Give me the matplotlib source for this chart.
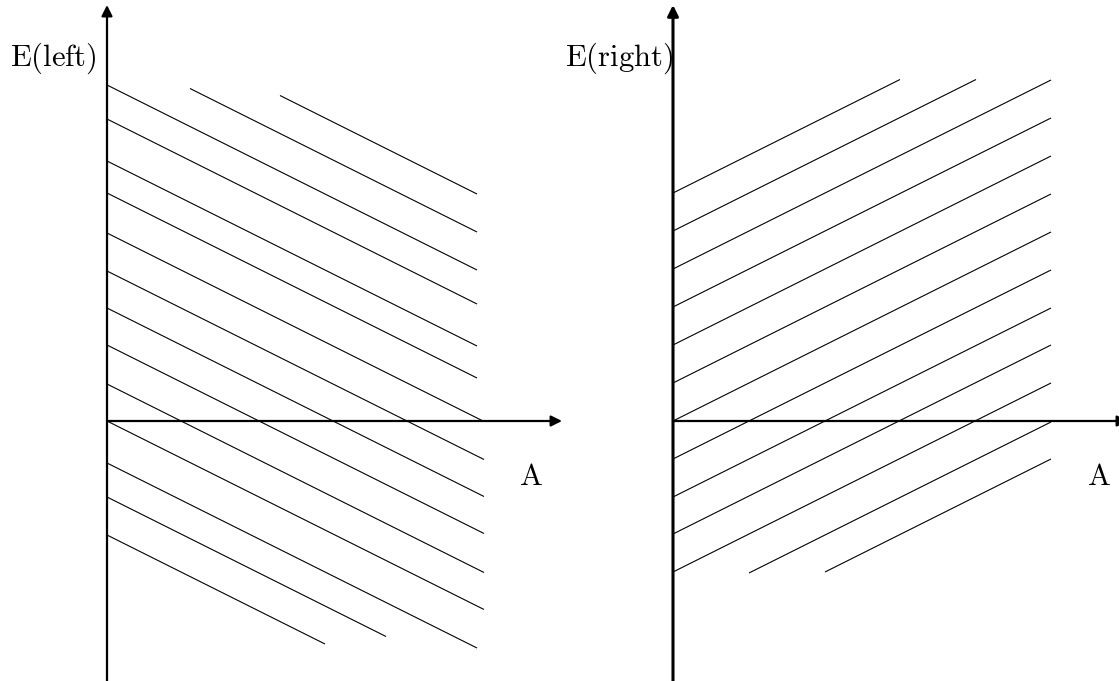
import numpy as np
import matplotlib
matplotlib.use("Agg")
import matplotlib.pyplot as plt

plt.rcParams['mathtext.fontset'] = 'cm'

# left diagram: E = c - 0.5*A, each line drawn from a_start to a_end
left_slope = -0.5
left_intercepts = [412, 374, 336, 302, 260, 228, 188, 150, 113, 76, 37, 0, -42, -76, -114]
left_a_start = [173, 83, 0, 0, 0, 0, 0, 0, 0, 0, 0, 0, 0, 0, 0]
left_a_end = [370, 370, 370, 370, 370, 370, 377, 377, 377, 377, 377, 377, 370, 279, 218]

# right diagram: E = c + 0.5*A
right_slope = 0.5
right_intercepts = [228, 190, 152, 114, 76, 38, 0, -38, -76, -113, -151, -190, -227]
right_a_start = [0, 0, 0, 0, 0, 0, 0, 0, 0, 0, 0, 76, 152]
right_a_end = [227, 303, 378, 378, 378, 378, 378, 378, 378, 378, 378, 378, 378]

W, H = 1119, 681
fig = plt.figure(figsize=(W / 100, H / 100), dpi=100)


def make_panel(rect, origin_x, origin_y):
    ax = fig.add_axes(rect)
    x0 = rect[0] * W
    x1 = (rect[0] + rect[2]) * W
    ax.set_xlim(x0 - origin_x, x1 - origin_x)
    ax.set_ylim(-(H - origin_y), origin_y)
    ax.axis('off')
    return ax


def draw_axes(ax, vlw, hlw):
    ax.annotate('', xy=(0, 416), xytext=(0, -300), annotation_clip=False,
                arrowprops=dict(arrowstyle='-|>', lw=vlw, color='black',
                                mutation_scale=16, shrinkA=0, shrinkB=0))
    ax.annotate('', xy=(455, 0), xytext=(0, 0), annotation_clip=False,
                arrowprops=dict(arrowstyle='-|>', lw=hlw, color='black',
                                mutation_scale=16, shrinkA=0, shrinkB=0))


def draw_lines(ax, slope, intercepts, a_start, a_end):
    for c, a0, a1 in zip(intercepts, a_start, a_end):
        a = np.array([a0, a1])
        ax.plot(a, c + slope * a, color='black', lw=0.8, solid_capstyle='butt')


ax1 = make_panel([0, 0, 0.5, 1], 107, 421)
draw_lines(ax1, left_slope, left_intercepts, left_a_start, left_a_end)
draw_axes(ax1, 1.6, 1.6)
ax1.text(-97, 355, r'$\mathrm{E(left)}$', fontsize=22, ha='left', va='baseline')
ax1.text(412, -64, r'$\mathrm{A}$', fontsize=22, ha='left', va='baseline')

ax2 = make_panel([0.5, 0, 0.5, 1], 673, 421)
draw_lines(ax2, right_slope, right_intercepts, right_a_start, right_a_end)
draw_axes(ax2, 2.2, 1.6)
ax2.text(-108, 355, r'$\mathrm{E(right)}$', fontsize=22, ha='left', va='baseline')
ax2.text(414, -64, r'$\mathrm{A}$', fontsize=22, ha='left', va='baseline')

fig.savefig('out.png', dpi=100, facecolor='white')
